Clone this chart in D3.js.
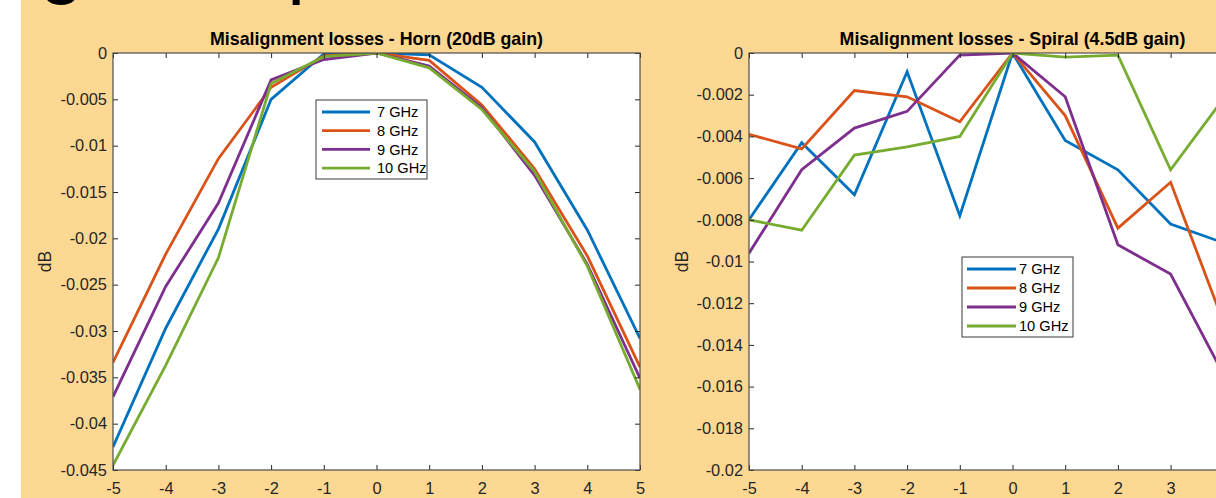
<!DOCTYPE html>
<html>
<head>
<meta charset="utf-8">
<script src="https://cdn.jsdelivr.net/npm/d3@7"></script>
<style>
  html, body { margin: 0; padding: 0; background: #ffffff; }
  svg { display: block; }
</style>
</head>
<body>
<svg id="chart"></svg>
<script>
const angles = [-5, -4, -3, -2, -1, 0, 1, 2, 3, 4, 5];
const seriesNames = ["7 GHz", "8 GHz", "9 GHz", "10 GHz"];

const horn7 = [-0.0425, -0.0297, -0.0190, -0.0050, -0.0001, 0, -0.0002, -0.0037, -0.0096, -0.0191, -0.0308];
const horn8 = [-0.0334, -0.0217, -0.0114, -0.0037, -0.0003, 0, -0.0008, -0.0056, -0.0125, -0.0219, -0.0339];
const horn9 = [-0.0371, -0.0252, -0.0162, -0.0029, -0.0007, 0, -0.0014, -0.0059, -0.0132, -0.0228, -0.0351];
const horn10 = [-0.0445, -0.0337, -0.0221, -0.0033, -0.0004, 0, -0.0016, -0.0061, -0.0128, -0.0230, -0.0363];

const spiral7 = [-0.0080, -0.0043, -0.0068, -0.0009, -0.0078, 0, -0.0042, -0.0056, -0.0082, -0.0091, -0.0098];
const spiral8 = [-0.0039, -0.0046, -0.0018, -0.0021, -0.0033, 0, -0.0030, -0.0084, -0.0062, -0.0129, -0.0150];
const spiral9 = [-0.0096, -0.0056, -0.0036, -0.0028, -0.0001, 0, -0.0021, -0.0092, -0.0106, -0.0154, -0.0175];
const spiral10 = [-0.0080, -0.0085, -0.0049, -0.0045, -0.0040, 0, -0.0002, -0.0001, -0.0056, -0.0022, -0.0040];

const hornTicks = [0, -0.005, -0.01, -0.015, -0.02, -0.025, -0.03, -0.035, -0.04, -0.045];
const hornTickLabels = ["0", "-0.005", "-0.01", "-0.015", "-0.02", "-0.025", "-0.03", "-0.035", "-0.04", "-0.045"];
const spiralTicks = [0, -0.002, -0.004, -0.006, -0.008, -0.01, -0.012, -0.014, -0.016, -0.018, -0.02];
const spiralTickLabels = ["0", "-0.002", "-0.004", "-0.006", "-0.008", "-0.01", "-0.012", "-0.014", "-0.016", "-0.018", "-0.02"];
const angleLabels = ["-5", "-4", "-3", "-2", "-1", "0", "1", "2", "3", "4", "5"];

const colors = ["#0072BD", "#D95319", "#7E2F8E", "#77AC30"];
const font = "'Liberation Sans', Arial, Helvetica, sans-serif";
const axisColor = "#262626";

const svg = d3.select("#chart")
    .attr("width", 1216)
    .attr("height", 498);

// slide background
svg.append("rect").attr("width", 1216).attr("height", 498).attr("fill", "#ffffff");
svg.append("rect").attr("x", 21).attr("width", 1195).attr("height", 498).attr("fill", "#FDD893");

// slide heading, mostly cut off at the top
svg.append("text")
    .attr("x", 84).attr("y", -12)
    .attr("text-anchor", "end")
    .attr("font-family", font).attr("font-size", 80)
    .attr("fill", "#000")
    .text("Pointing");
svg.append("text")
    .attr("x", 136).attr("y", -12)
    .attr("font-family", font).attr("font-size", 80)
    .attr("fill", "#000")
    .text("comparison");

function drawPanel(cfg) {
    const width = cfg.right - cfg.left;
    const height = cfg.bottom - cfg.top;

    const x = d3.scaleLinear().domain([-5, 5]).range([0, width]);
    const y = d3.scaleLinear().domain([cfg.ticks[cfg.ticks.length - 1], 0]).range([height, 0]);

    const g = svg.append("g")
        .attr("transform", `translate(${cfg.left},${cfg.top})`);

    g.append("rect")
        .attr("width", width).attr("height", height)
        .attr("fill", "#ffffff");

    g.append("clipPath").attr("id", cfg.id + "Clip")
        .append("rect").attr("width", width).attr("height", height);

    const line = d3.line()
        .x((d, i) => x(angles[i]))
        .y(d => y(d));

    const lines = g.append("g").attr("clip-path", `url(#${cfg.id}Clip)`);
    cfg.series.forEach((s, i) => {
        lines.append("path")
            .datum(s)
            .attr("fill", "none")
            .attr("stroke", colors[i])
            .attr("stroke-width", 2.8)
            .attr("stroke-linejoin", "miter")
            .attr("d", line);
    });

    // axes, MATLAB style: ticks pointing inwards on all four sides
    const styleAxis = sel => {
        sel.select(".domain").remove();
        sel.selectAll(".tick line").attr("stroke", axisColor).attr("stroke-width", 1);
        sel.selectAll(".tick text")
            .attr("fill", axisColor)
            .attr("font-family", font)
            .attr("font-size", 16.4);
    };

    g.append("g")
        .call(d3.axisLeft(y).tickValues(cfg.ticks)
            .tickFormat((d, i) => cfg.tickLabels[i])
            .tickSizeInner(-5).tickSizeOuter(0).tickPadding(6))
        .call(styleAxis);

    g.append("g")
        .attr("transform", `translate(${width},0)`)
        .call(d3.axisRight(y).tickValues(cfg.ticks).tickFormat("")
            .tickSizeInner(-5).tickSizeOuter(0))
        .call(styleAxis);

    const xAxis = g.append("g")
        .attr("transform", `translate(0,${height})`)
        .call(d3.axisBottom(x).tickValues(angles).tickFormat((d, i) => angleLabels[i])
            .tickSizeInner(-5).tickSizeOuter(0).tickPadding(12))
        .call(styleAxis);
    xAxis.selectAll(".tick text").attr("dy", "0.71em");

    g.append("g")
        .call(d3.axisTop(x).tickValues(angles).tickFormat("")
            .tickSizeInner(-5).tickSizeOuter(0))
        .call(styleAxis);

    g.append("rect")
        .attr("width", width).attr("height", height)
        .attr("fill", "none")
        .attr("stroke", "#4d4d4d")
        .attr("stroke-width", 1.2);

    // title
    svg.append("text")
        .attr("x", cfg.left + width / 2)
        .attr("y", 44.5)
        .attr("text-anchor", "middle")
        .attr("font-family", font)
        .attr("font-size", 17.8)
        .attr("font-weight", "bold")
        .attr("fill", "#000")
        .text(cfg.title);

    // y label
    svg.append("text")
        .attr("transform", `translate(${cfg.yLabelX},${(cfg.top + cfg.bottom) / 2}) rotate(-90)`)
        .attr("text-anchor", "middle")
        .attr("font-family", font)
        .attr("font-size", 17.6)
        .attr("fill", axisColor)
        .text("dB");

    // legend
    const lg = cfg.legend;
    const legend = svg.append("g");
    legend.append("rect")
        .attr("x", lg.x).attr("y", lg.y)
        .attr("width", lg.w).attr("height", lg.h)
        .attr("fill", "#ffffff")
        .attr("stroke", "#3a3a3a")
        .attr("stroke-width", 1);
    seriesNames.forEach((name, i) => {
        const ry = lg.rowY + i * lg.rowStep;
        legend.append("line")
            .attr("x1", lg.lineX1).attr("x2", lg.lineX2)
            .attr("y1", ry).attr("y2", ry)
            .attr("stroke", colors[i])
            .attr("stroke-width", 2.8);
        legend.append("text")
            .attr("x", lg.textX).attr("y", ry)
            .attr("dy", "0.35em")
            .attr("font-family", font)
            .attr("font-size", 14.6)
            .attr("fill", "#000")
            .text(name);
    });
}

drawPanel({
    id: "horn",
    left: 113, right: 640, top: 53, bottom: 470,
    ticks: hornTicks, tickLabels: hornTickLabels,
    series: [horn7, horn8, horn9, horn10],
    title: "Misalignment losses - Horn (20dB gain)",
    yLabelX: 51,
    legend: { x: 316, y: 100, w: 111, h: 79, rowY: 112, rowStep: 18.7, lineX1: 322, lineX2: 370, textX: 377 }
});

drawPanel({
    id: "spiral",
    left: 749, right: 1276, top: 53, bottom: 470,
    ticks: spiralTicks, tickLabels: spiralTickLabels,
    series: [spiral7, spiral8, spiral9, spiral10],
    title: "Misalignment losses - Spiral (4.5dB gain)",
    yLabelX: 688,
    legend: { x: 962, y: 257, w: 111, h: 80, rowY: 269, rowStep: 19, lineX1: 967, lineX2: 1016, textX: 1019 }
});
</script>
</body>
</html>
